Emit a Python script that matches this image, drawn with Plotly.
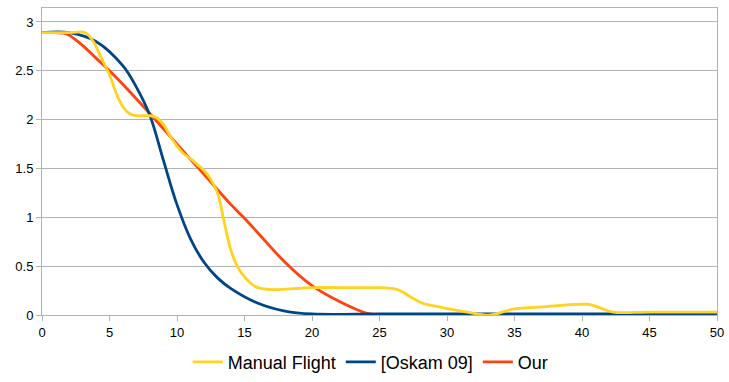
import plotly.graph_objects as go

# Manual Flight
manual_x = [0, 1, 2, 3.2, 3.8, 4.4, 5, 5.5, 6, 6.5, 7, 7.5, 8, 8.5, 9, 9.5, 10, 10.5, 11,
            11.5, 12, 12.5, 13, 13.5, 14, 14.5, 15, 15.5, 16, 17, 20, 23, 25, 26, 26.5,
            27.5, 28.2, 29.5, 31.5, 33.2, 34.9, 36.7, 40.4, 41.2, 42.3, 45, 50]
manual_y = [2.89, 2.89, 2.89, 2.89, 2.8, 2.63, 2.46, 2.27, 2.13, 2.06, 2.04, 2.04, 2.04,
            2.02, 1.95, 1.83, 1.73, 1.65, 1.6, 1.54, 1.48, 1.39, 1.25, 0.95, 0.66, 0.49,
            0.39, 0.32, 0.28, 0.26, 0.28, 0.28, 0.28, 0.27, 0.25, 0.17, 0.12, 0.08, 0.03,
            0.0, 0.06, 0.08, 0.11, 0.08, 0.03, 0.03, 0.03]

# [Oskam 09]
oskam_x = [0, 2, 4, 6, 7, 8, 9, 10, 11, 12, 13, 14, 16, 18, 20, 25, 30, 35, 40, 45, 50]
oskam_y = [2.89, 2.89, 2.8, 2.55, 2.33, 2.04, 1.58, 1.13, 0.78, 0.54, 0.38, 0.27, 0.12,
           0.04, 0.01, 0.01, 0.01, 0.01, 0.01, 0.01, 0.01]

# Our
our_x = [0, 1, 1.8, 3, 4, 5, 6, 8, 10, 12, 14, 15, 16, 18, 20, 22, 24, 25, 30, 35, 40,
         45, 50]
our_y = [2.89, 2.89, 2.88, 2.76, 2.63, 2.5, 2.36, 2.06, 1.75, 1.44, 1.13, 0.99, 0.84,
         0.54, 0.3, 0.14, 0.02, 0, 0, 0, 0, 0, 0]

fig = go.Figure()
fig.add_trace(go.Scatter(x=our_x, y=our_y, name="Our", mode="lines", legendrank=3,
                         line=dict(color="#FF420E", width=2.8, shape="spline")))
fig.add_trace(go.Scatter(x=oskam_x, y=oskam_y, name="[Oskam 09]", mode="lines", legendrank=2,
                         line=dict(color="#004586", width=2.8, shape="spline")))
fig.add_trace(go.Scatter(x=manual_x, y=manual_y, name="Manual Flight", mode="lines", legendrank=1,
                         line=dict(color="#FFD320", width=2.8, shape="spline")))

fig.update_layout(
    width=729, height=382,
    margin=dict(l=42, r=12, t=8, b=67),
    plot_bgcolor="white", paper_bgcolor="white",
    font=dict(family="Liberation Sans", size=13, color="#000000"),
    legend=dict(orientation="h", x=0.487, xanchor="center",
                yref="container", y=0.052, yanchor="middle",
                font=dict(size=18), itemwidth=30),
)
fig.update_xaxes(range=[0, 50], dtick=5, showgrid=False, zeroline=False, automargin=False,
                 showline=True, linecolor="#b3b3b3", linewidth=1, mirror=True,
                 ticks="outside", ticklen=5, tickcolor="#b3b3b3")
fig.update_yaxes(range=[0, 3.143], tickvals=[0, 0.5, 1, 1.5, 2, 2.5, 3],
                 ticktext=["0", "0.5", "1", "1.5", "2", "2.5", "3"], automargin=False,
                 showgrid=True, gridcolor="#b3b3b3", zeroline=False,
                 showline=True, linecolor="#b3b3b3", linewidth=1, mirror=True,
                 ticks="outside", ticklen=5, tickcolor="#b3b3b3")

# the page body has a default 8px margin; drop it so the figure sits at the corner
fig.write_html("out.html", config={"displayModeBar": False},
               post_script="document.body.style.margin='0';")
